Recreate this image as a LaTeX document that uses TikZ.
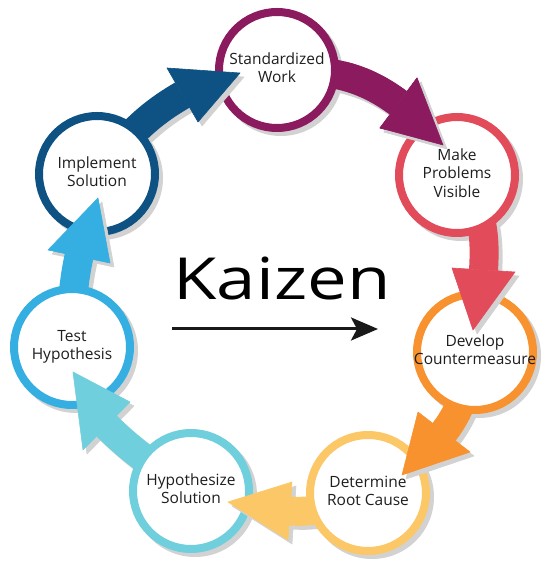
\documentclass[tikz,border=0pt]{standalone}
\usepackage{fontspec}
\usepackage{graphicx}
\setmainfont{Open Sans}
\usetikzlibrary{arrows.meta,calc}
\definecolor{kzpurple}{HTML}{8B1B5E}
\definecolor{kzred}{HTML}{E14B5A}
\definecolor{kzorange}{HTML}{F7922F}
\definecolor{kzyellow}{HTML}{FCC867}
\definecolor{kzcyan}{HTML}{6FCFDC}
\definecolor{kzlblue}{HTML}{35AEE2}
\definecolor{kzdblue}{HTML}{0E5283}
\definecolor{kzshadow}{HTML}{D2D2D2}
\definecolor{kztext}{HTML}{1E1E1E}
\tikzset{
  kzring/.style={circle, minimum size=116pt, inner sep=0pt, line width=8pt,
    draw=#1, fill=white, text=kztext, font=\fontsize{15.5}{18.5}\selectfont},
  kzshaft/.style={line width=29pt, line cap=butt},
}
\newcommand\kzlabel[1]{\makebox[0pt]{\begin{tabular}{@{}c@{}}#1\end{tabular}}}
% #1 colour, #2 source, #3 out, #4 in, #5 prefix of head coordinates
\newcommand\kzArrow[5]{%
  \begin{scope}[transform canvas={shift={(4pt,-4pt)}}]
    \draw[kzshaft, draw=kzshadow] (#2) to[out=#3,in=#4] ($(#5L)!0.5!(#5R)$);
    \filldraw[kzshadow, line width=0.6pt, line join=round] (#5L) -- (#5T) -- (#5R) -- cycle;
  \end{scope}
  \draw[kzshaft, draw=#1] (#2) to[out=#3,in=#4] ($(#5L)!0.5!(#5R)$);
  \filldraw[#1, line width=0.6pt, line join=round] (#5L) -- (#5T) -- (#5R) -- cycle;
}
\begin{document}
\begin{tikzpicture}[x=1pt,y=1pt]
\useasboundingbox (0,0) rectangle (554,565);
% circle centres
\coordinate (SWc) at (277,495);
\coordinate (MPVc) at (457,390);
\coordinate (DCc) at (475,213);
\coordinate (DRCc) at (368,72);
\coordinate (HSc) at (191,74);
\coordinate (THc) at (72,218);
\coordinate (ISc) at (97,391);
% arrow heads
\coordinate (pL) at (417,487); \coordinate (pT) at (443,420); \coordinate (pR) at (380,437);
\coordinate (bL) at (167,497); \coordinate (bT) at (240,492); \coordinate (bR) at (198,443);
\coordinate (lL) at (48,315);  \coordinate (lT) at (98,367);  \coordinate (lR) at (110,302);
\coordinate (cL) at (130,163); \coordinate (cT) at (73,193);  \coordinate (cR) at (83,115);
\coordinate (yL) at (292,83);  \coordinate (yT) at (228,63);  \coordinate (yR) at (288,25);
\coordinate (oL) at (418,153); \coordinate (oT) at (402,90);  \coordinate (oR) at (470,113);
\coordinate (rL) at (452,297); \coordinate (rT) at (473,235); \coordinate (rR) at (515,293);
% circle shadows
\foreach \c in {SWc,MPVc,DCc,DRCc,HSc,THc,ISc}
  \fill[kzshadow] ([shift={(4,-4)}]\c) circle (62);
% cycle
\kzArrow{kzpurple}{SWc}{0}{143.5}{p}
\node[kzring=kzpurple] (SW) at (SWc) {\kzlabel{Standardized\\Work}};
\kzArrow{kzdblue}{ISc}{50}{210}{b}
\node[kzring=kzdblue] (IS) at (ISc) {\kzlabel{Implement\\Solution}};
\kzArrow{kzlblue}{THc}{90}{258}{l}
\node[kzring=kzlblue] (TH) at (THc) {\kzlabel{Test\\Hypothesis}};
\kzArrow{kzcyan}{HSc}{145}{315.6}{c}
\node[kzring=kzcyan] (HS) at (HSc) {\kzlabel{Hypothesize\\Solution}};
\kzArrow{kzyellow}{DRCc}{200}{356}{y}
\node[kzring=kzyellow] (DRC) at (DRCc) {\kzlabel{Determine\\Root Cause}};
\kzArrow{kzorange}{DCc}{255}{52.4}{o}
\node[kzring=kzorange] (DC) at (DCc) {\kzlabel{Develop\\Countermeasure}};
\kzArrow{kzred}{MPVc}{-50}{86.4}{r}
\node[kzring=kzred] (MPV) at (MPVc) {\kzlabel{Make\\Problems\\Visible}};
\begin{scope}
  \clip (345,300) rectangle (554,565);
  \kzArrow{kzpurple}{SWc}{0}{143.5}{p}
\end{scope}
% title
\node[anchor=base, inner sep=0pt, text=black, font=\fontsize{58}{60}\selectfont] (title) at (282,265) {\scalebox{1.22}[1]{Kaizen}};
\coordinate (kA) at (172,236);
\coordinate (kB) at (378,236);
\draw[line width=3pt, draw=black!90, -{Stealth[length=27pt,width=23pt,inset=6pt]}] (kA) -- (kB);
\end{tikzpicture}
\end{document}
